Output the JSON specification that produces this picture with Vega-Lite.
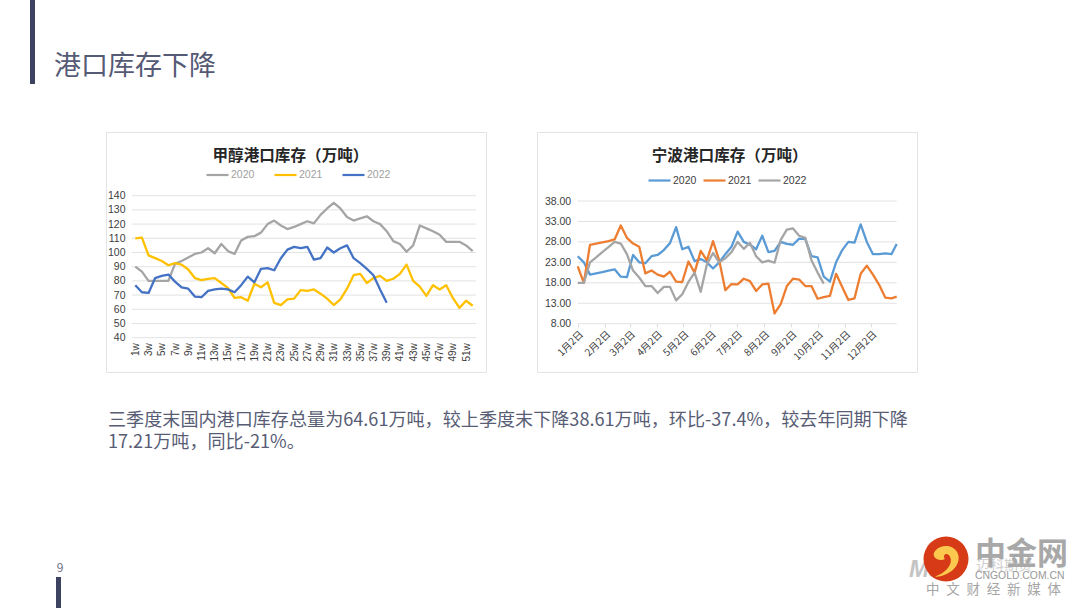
{
"$schema":"https://vega.github.io/schema/vega-lite/v6.json",
"width":1080,"height":608,"padding":0,"autosize":{"type":"none"},"background":"white",
"config":{"view":{"stroke":null},"font":"Noto Sans CJK SC","axis":{"labelFont":"Liberation Sans"},"legend":{"labelFont":"Liberation Sans"}},
"title":{"text":"港口库存下降","anchor":"start","frame":"group","orient":"top","offset":-81,"dx":54,"fontSize":27,"fontWeight":"normal","color":"#555a75","font":"Noto Sans CJK SC"},
"datasets":{
"ticksL":[{"v":40},{"v":50},{"v":60},{"v":70},{"v":80},{"v":90},{"v":100},{"v":110},{"v":120},{"v":130},{"v":140}],
"ticksR":[{"v":8},{"v":13},{"v":18},{"v":23},{"v":28},{"v":33},{"v":38}],
"methanol":[
{"y":"2020","w":1,"v":90},{"y":"2020","w":2,"v":86.5},{"y":"2020","w":3,"v":80},{"y":"2020","w":4,"v":80},{"y":"2020","w":5,"v":80},{"y":"2020","w":6,"v":80},{"y":"2020","w":7,"v":92},{"y":"2020","w":8,"v":94},{"y":"2020","w":9,"v":96.5},{"y":"2020","w":10,"v":99},{"y":"2020","w":11,"v":100},{"y":"2020","w":12,"v":103},{"y":"2020","w":13,"v":99.5},{"y":"2020","w":14,"v":106},{"y":"2020","w":15,"v":101},{"y":"2020","w":16,"v":99},{"y":"2020","w":17,"v":108.5},{"y":"2020","w":18,"v":111},{"y":"2020","w":19,"v":111.5},{"y":"2020","w":20,"v":114},{"y":"2020","w":21,"v":120},{"y":"2020","w":22,"v":122.5},{"y":"2020","w":23,"v":119},{"y":"2020","w":24,"v":116.5},{"y":"2020","w":25,"v":118},{"y":"2020","w":26,"v":120},{"y":"2020","w":27,"v":122},{"y":"2020","w":28,"v":120.5},{"y":"2020","w":29,"v":126.5},{"y":"2020","w":30,"v":131},{"y":"2020","w":31,"v":135},{"y":"2020","w":32,"v":131},{"y":"2020","w":33,"v":125},{"y":"2020","w":34,"v":122.5},{"y":"2020","w":35,"v":124},{"y":"2020","w":36,"v":125.5},{"y":"2020","w":37,"v":122},{"y":"2020","w":38,"v":120},{"y":"2020","w":39,"v":115},{"y":"2020","w":40,"v":108},{"y":"2020","w":41,"v":106},{"y":"2020","w":42,"v":100.5},{"y":"2020","w":43,"v":105},{"y":"2020","w":44,"v":119},{"y":"2020","w":45,"v":117},{"y":"2020","w":46,"v":115},{"y":"2020","w":47,"v":112.5},{"y":"2020","w":48,"v":107.5},{"y":"2020","w":49,"v":107.5},{"y":"2020","w":50,"v":107.5},{"y":"2020","w":51,"v":105},{"y":"2020","w":52,"v":101},
{"y":"2021","w":1,"v":110},{"y":"2021","w":2,"v":110.5},{"y":"2021","w":3,"v":98},{"y":"2021","w":4,"v":96},{"y":"2021","w":5,"v":94},{"y":"2021","w":6,"v":91},{"y":"2021","w":7,"v":92.5},{"y":"2021","w":8,"v":91.5},{"y":"2021","w":9,"v":88},{"y":"2021","w":10,"v":82},{"y":"2021","w":11,"v":80.5},{"y":"2021","w":12,"v":81.5},{"y":"2021","w":13,"v":82},{"y":"2021","w":14,"v":78.5},{"y":"2021","w":15,"v":75},{"y":"2021","w":16,"v":68},{"y":"2021","w":17,"v":68.5},{"y":"2021","w":18,"v":66},{"y":"2021","w":19,"v":78},{"y":"2021","w":20,"v":75.5},{"y":"2021","w":21,"v":79},{"y":"2021","w":22,"v":64.5},{"y":"2021","w":23,"v":63},{"y":"2021","w":24,"v":67},{"y":"2021","w":25,"v":67.5},{"y":"2021","w":26,"v":73.5},{"y":"2021","w":27,"v":73},{"y":"2021","w":28,"v":74},{"y":"2021","w":29,"v":71},{"y":"2021","w":30,"v":67.5},{"y":"2021","w":31,"v":63},{"y":"2021","w":32,"v":67},{"y":"2021","w":33,"v":74.5},{"y":"2021","w":34,"v":84},{"y":"2021","w":35,"v":85},{"y":"2021","w":36,"v":78.5},{"y":"2021","w":37,"v":82},{"y":"2021","w":38,"v":83.5},{"y":"2021","w":39,"v":80},{"y":"2021","w":40,"v":81.5},{"y":"2021","w":41,"v":85},{"y":"2021","w":42,"v":91.5},{"y":"2021","w":43,"v":80},{"y":"2021","w":44,"v":76},{"y":"2021","w":45,"v":69.5},{"y":"2021","w":46,"v":77},{"y":"2021","w":47,"v":74},{"y":"2021","w":48,"v":77},{"y":"2021","w":49,"v":68},{"y":"2021","w":50,"v":61},{"y":"2021","w":51,"v":66},{"y":"2021","w":52,"v":62.5},
{"y":"2022","w":1,"v":77},{"y":"2022","w":2,"v":72},{"y":"2022","w":3,"v":71.5},{"y":"2022","w":4,"v":82},{"y":"2022","w":5,"v":83.5},{"y":"2022","w":6,"v":84.5},{"y":"2022","w":7,"v":79.5},{"y":"2022","w":8,"v":75.5},{"y":"2022","w":9,"v":74.5},{"y":"2022","w":10,"v":69},{"y":"2022","w":11,"v":68.5},{"y":"2022","w":12,"v":73},{"y":"2022","w":13,"v":74},{"y":"2022","w":14,"v":74.5},{"y":"2022","w":15,"v":74},{"y":"2022","w":16,"v":72},{"y":"2022","w":17,"v":77},{"y":"2022","w":18,"v":83},{"y":"2022","w":19,"v":79},{"y":"2022","w":20,"v":88.5},{"y":"2022","w":21,"v":89},{"y":"2022","w":22,"v":87.5},{"y":"2022","w":23,"v":96},{"y":"2022","w":24,"v":102},{"y":"2022","w":25,"v":104},{"y":"2022","w":26,"v":103},{"y":"2022","w":27,"v":104},{"y":"2022","w":28,"v":95},{"y":"2022","w":29,"v":96},{"y":"2022","w":30,"v":103.5},{"y":"2022","w":31,"v":100},{"y":"2022","w":32,"v":103},{"y":"2022","w":33,"v":105},{"y":"2022","w":34,"v":96},{"y":"2022","w":35,"v":92.5},{"y":"2022","w":36,"v":88.5},{"y":"2022","w":37,"v":84},{"y":"2022","w":38,"v":74},{"y":"2022","w":39,"v":64.61}
],
"ningbo":[
{"y":"2020","d":"2021-01-02","v":24.5},{"y":"2020","d":"2021-01-09","v":23},{"y":"2020","d":"2021-01-16","v":20},{"y":"2020","d":"2021-01-23","v":20.3},{"y":"2020","d":"2021-01-30","v":20.6},{"y":"2020","d":"2021-02-06","v":21},{"y":"2020","d":"2021-02-13","v":21.3},{"y":"2020","d":"2021-02-20","v":19.5},{"y":"2020","d":"2021-02-27","v":19.4},{"y":"2020","d":"2021-03-06","v":24.8},{"y":"2020","d":"2021-03-13","v":23},{"y":"2020","d":"2021-03-20","v":22.8},{"y":"2020","d":"2021-03-27","v":24.5},{"y":"2020","d":"2021-04-03","v":24.8},{"y":"2020","d":"2021-04-10","v":26},{"y":"2020","d":"2021-04-17","v":27.7},{"y":"2020","d":"2021-04-24","v":31.6},{"y":"2020","d":"2021-05-01","v":26.2},{"y":"2020","d":"2021-05-08","v":26.8},{"y":"2020","d":"2021-05-15","v":23.3},{"y":"2020","d":"2021-05-22","v":23.8},{"y":"2020","d":"2021-05-29","v":23},{"y":"2020","d":"2021-06-05","v":21.5},{"y":"2020","d":"2021-06-12","v":23},{"y":"2020","d":"2021-06-19","v":25},{"y":"2020","d":"2021-06-26","v":26.8},{"y":"2020","d":"2021-07-03","v":30.5},{"y":"2020","d":"2021-07-10","v":28},{"y":"2020","d":"2021-07-17","v":27.3},{"y":"2020","d":"2021-07-24","v":26.2},{"y":"2020","d":"2021-07-31","v":29.5},{"y":"2020","d":"2021-08-07","v":25.5},{"y":"2020","d":"2021-08-14","v":25.8},{"y":"2020","d":"2021-08-21","v":28},{"y":"2020","d":"2021-08-28","v":27.5},{"y":"2020","d":"2021-09-04","v":27.3},{"y":"2020","d":"2021-09-11","v":28.8},{"y":"2020","d":"2021-09-18","v":28.7},{"y":"2020","d":"2021-09-25","v":24.5},{"y":"2020","d":"2021-10-02","v":24.2},{"y":"2020","d":"2021-10-09","v":19.5},{"y":"2020","d":"2021-10-16","v":18.3},{"y":"2020","d":"2021-10-23","v":23},{"y":"2020","d":"2021-10-30","v":26},{"y":"2020","d":"2021-11-06","v":28},{"y":"2020","d":"2021-11-13","v":27.8},{"y":"2020","d":"2021-11-20","v":32.3},{"y":"2020","d":"2021-11-27","v":28},{"y":"2020","d":"2021-12-04","v":25},{"y":"2020","d":"2021-12-11","v":25},{"y":"2020","d":"2021-12-18","v":25.2},{"y":"2020","d":"2021-12-25","v":25},{"y":"2020","d":"2021-12-31","v":27.5},
{"y":"2021","d":"2021-01-02","v":22},{"y":"2021","d":"2021-01-09","v":18},{"y":"2021","d":"2021-01-16","v":27.3},{"y":"2021","d":"2021-01-23","v":27.6},{"y":"2021","d":"2021-01-30","v":27.9},{"y":"2021","d":"2021-02-06","v":28.2},{"y":"2021","d":"2021-02-13","v":28.6},{"y":"2021","d":"2021-02-20","v":32},{"y":"2021","d":"2021-02-27","v":29},{"y":"2021","d":"2021-03-06","v":27.6},{"y":"2021","d":"2021-03-13","v":26.8},{"y":"2021","d":"2021-03-20","v":20.3},{"y":"2021","d":"2021-03-27","v":21},{"y":"2021","d":"2021-04-03","v":20},{"y":"2021","d":"2021-04-10","v":19.5},{"y":"2021","d":"2021-04-17","v":20.7},{"y":"2021","d":"2021-04-24","v":18.3},{"y":"2021","d":"2021-05-01","v":18.2},{"y":"2021","d":"2021-05-08","v":23.2},{"y":"2021","d":"2021-05-15","v":20.5},{"y":"2021","d":"2021-05-22","v":25.8},{"y":"2021","d":"2021-05-29","v":23.5},{"y":"2021","d":"2021-06-05","v":28.2},{"y":"2021","d":"2021-06-12","v":23.5},{"y":"2021","d":"2021-06-19","v":16.2},{"y":"2021","d":"2021-06-26","v":17.7},{"y":"2021","d":"2021-07-03","v":17.6},{"y":"2021","d":"2021-07-10","v":19},{"y":"2021","d":"2021-07-17","v":18.4},{"y":"2021","d":"2021-07-24","v":16},{"y":"2021","d":"2021-07-31","v":17.6},{"y":"2021","d":"2021-08-07","v":17.8},{"y":"2021","d":"2021-08-14","v":10.5},{"y":"2021","d":"2021-08-21","v":12.8},{"y":"2021","d":"2021-08-28","v":17.2},{"y":"2021","d":"2021-09-04","v":19},{"y":"2021","d":"2021-09-11","v":18.8},{"y":"2021","d":"2021-09-18","v":17.2},{"y":"2021","d":"2021-09-25","v":17.2},{"y":"2021","d":"2021-10-02","v":14.1},{"y":"2021","d":"2021-10-09","v":14.5},{"y":"2021","d":"2021-10-16","v":14.8},{"y":"2021","d":"2021-10-23","v":20.2},{"y":"2021","d":"2021-10-30","v":17},{"y":"2021","d":"2021-11-06","v":13.8},{"y":"2021","d":"2021-11-13","v":14.2},{"y":"2021","d":"2021-11-20","v":20.2},{"y":"2021","d":"2021-11-27","v":22.2},{"y":"2021","d":"2021-12-04","v":20},{"y":"2021","d":"2021-12-11","v":17.5},{"y":"2021","d":"2021-12-18","v":14.4},{"y":"2021","d":"2021-12-25","v":14.2},{"y":"2021","d":"2021-12-31","v":14.6},
{"y":"2022","d":"2021-01-02","v":18},{"y":"2022","d":"2021-01-09","v":18},{"y":"2022","d":"2021-01-16","v":23},{"y":"2022","d":"2021-01-23","v":24.2},{"y":"2022","d":"2021-01-30","v":25.5},{"y":"2022","d":"2021-02-06","v":26.7},{"y":"2022","d":"2021-02-13","v":28},{"y":"2022","d":"2021-02-20","v":27.6},{"y":"2022","d":"2021-02-27","v":25},{"y":"2022","d":"2021-03-06","v":21},{"y":"2022","d":"2021-03-13","v":19.3},{"y":"2022","d":"2021-03-20","v":17.2},{"y":"2022","d":"2021-03-27","v":17.2},{"y":"2022","d":"2021-04-03","v":15.5},{"y":"2022","d":"2021-04-10","v":17},{"y":"2022","d":"2021-04-17","v":17},{"y":"2022","d":"2021-04-24","v":13.7},{"y":"2022","d":"2021-05-01","v":15.2},{"y":"2022","d":"2021-05-08","v":18.2},{"y":"2022","d":"2021-05-15","v":20.5},{"y":"2022","d":"2021-05-22","v":15.8},{"y":"2022","d":"2021-05-29","v":22.5},{"y":"2022","d":"2021-06-05","v":25.3},{"y":"2022","d":"2021-06-12","v":23},{"y":"2022","d":"2021-06-19","v":24},{"y":"2022","d":"2021-06-26","v":25.5},{"y":"2022","d":"2021-07-03","v":28},{"y":"2022","d":"2021-07-10","v":26.3},{"y":"2022","d":"2021-07-17","v":27.8},{"y":"2022","d":"2021-07-24","v":24.5},{"y":"2022","d":"2021-07-31","v":23},{"y":"2022","d":"2021-08-07","v":23.4},{"y":"2022","d":"2021-08-14","v":22.9},{"y":"2022","d":"2021-08-21","v":28.5},{"y":"2022","d":"2021-08-28","v":31},{"y":"2022","d":"2021-09-04","v":31.3},{"y":"2022","d":"2021-09-11","v":29.5},{"y":"2022","d":"2021-09-18","v":29},{"y":"2022","d":"2021-09-25","v":23.5},{"y":"2022","d":"2021-10-02","v":20.5},{"y":"2022","d":"2021-10-09","v":17.8}
]
},
"resolve":{"scale":{"x":"independent","y":"independent","color":"independent"},"axis":{"x":"independent","y":"independent"},"legend":{"color":"independent"}},
"layer":[
{"data":{"values":[{}]},
 "layer":[
  {"mark":{"type":"rect","fill":"transparent","stroke":"#e3e3e3","strokeWidth":1},"encoding":{
    "x":{"datum":106.5,"type":"quantitative","scale":{"domain":[0,1080],"range":[0,1080],"nice":false},"axis":null},"x2":{"datum":486.5},
    "y":{"datum":132.5,"type":"quantitative","scale":{"domain":[0,608],"range":[0,608],"nice":false},"axis":null},"y2":{"datum":372.5}}},
  {"mark":{"type":"rect","fill":"transparent","stroke":"#e3e3e3","strokeWidth":1},"encoding":{
    "x":{"datum":537.5,"type":"quantitative","axis":null},"x2":{"datum":917.5},
    "y":{"datum":132.5,"type":"quantitative","axis":null},"y2":{"datum":372.5}}},
  {"mark":{"type":"rect","fill":"#3e4261"},"encoding":{
    "x":{"datum":30,"type":"quantitative","axis":null},"x2":{"datum":35},
    "y":{"datum":0,"type":"quantitative","axis":null},"y2":{"datum":84}}},
  {"mark":{"type":"rect","fill":"#3e4261"},"encoding":{
    "x":{"datum":56,"type":"quantitative","axis":null},"x2":{"datum":61},
    "y":{"datum":577,"type":"quantitative","axis":null},"y2":{"datum":608}}},
  {"mark":{"type":"text","text":"9","fontSize":12,"color":"#6b6f85","align":"center","baseline":"middle"},"encoding":{
    "x":{"datum":60,"type":"quantitative","axis":null},"y":{"datum":568,"type":"quantitative","axis":null}}},
  {"mark":{"type":"text","text":"三季度末国内港口库存总量为64.61万吨，较上季度末下降38.61万吨，环比-37.4%，较去年同期下降","fontSize":18.1,"color":"#585d75","align":"left","baseline":"middle"},"encoding":{
    "x":{"datum":108,"type":"quantitative","axis":null},"y":{"datum":421,"type":"quantitative","axis":null}}},
  {"mark":{"type":"text","text":"17.21万吨，同比-21%。","fontSize":18.1,"color":"#585d75","align":"left","baseline":"middle"},"encoding":{
    "x":{"datum":108,"type":"quantitative","axis":null},"y":{"datum":443,"type":"quantitative","axis":null}}},
  {"mark":{"type":"text","text":"Mae","fontSize":24,"fontStyle":"italic","fontWeight":"bold","font":"Liberation Sans","color":"#c4c4c4","align":"left","baseline":"middle"},"encoding":{
    "x":{"datum":909,"type":"quantitative","axis":null},"y":{"datum":570,"type":"quantitative","axis":null}}},
  {"mark":{"type":"point","filled":true,"opacity":1,"size":2025,"color":"#d63a16"},"encoding":{
    "x":{"datum":946,"type":"quantitative","axis":null},"y":{"datum":559,"type":"quantitative","axis":null}}},
  {"mark":{"type":"point","filled":true,"opacity":1,"size":2025,"color":"#fbc94e","shape":"M-0.45,-0.4 C-0.2,-0.65 0.3,-0.65 0.5,-0.3 C0.7,0.1 0.4,0.5 0.05,0.65 C-0.15,0.75 -0.35,0.8 -0.5,0.78 C-0.1,0.65 0.3,0.3 0.2,-0.05 C0.1,-0.35 -0.2,-0.2 -0.05,0 C-0.3,0.15 -0.75,-0.1 -0.45,-0.4 Z"},"encoding":{
    "x":{"datum":946,"type":"quantitative","axis":null},"y":{"datum":559,"type":"quantitative","axis":null}}},
  {"mark":{"type":"text","text":"迈科期货","fontSize":14,"color":"#cfcfcf","align":"left","baseline":"middle"},"encoding":{
    "x":{"datum":976,"type":"quantitative","axis":null},"y":{"datum":566,"type":"quantitative","axis":null}}},
  {"mark":{"type":"text","text":"中金网","fontSize":31,"fontWeight":"bold","color":"#a8a8a8","align":"left","baseline":"middle"},"encoding":{
    "x":{"datum":975,"type":"quantitative","axis":null},"y":{"datum":555,"type":"quantitative","axis":null}}},
  {"mark":{"type":"text","text":"CNGOLD.COM.CN","fontSize":10.4,"font":"Liberation Sans","color":"#999999","align":"left","baseline":"middle"},"encoding":{
    "x":{"datum":975,"type":"quantitative","axis":null},"y":{"datum":576,"type":"quantitative","axis":null}}},
  {"mark":{"type":"text","text":"中\u2002文\u2002财\u2002经\u2002新\u2002媒\u2002体","fontSize":13.5,"color":"#a5a5a5","align":"left","baseline":"middle"},"encoding":{
    "x":{"datum":926,"type":"quantitative","axis":null},"y":{"datum":590,"type":"quantitative","axis":null}}}
 ]},
{"layer":[
  {"data":{"name":"ticksL"},"mark":{"type":"rule","color":"#e2e2e2","strokeWidth":1},"encoding":{
    "x":{"datum":0.5,"type":"quantitative","scale":{"domain":[0.5,52.5],"range":[132,476],"nice":false,"zero":false},
      "axis":{"orient":"bottom","offset":-270.3,"title":null,"values":[1,3,5,7,9,11,13,15,17,19,21,23,25,27,29,31,33,35,37,39,41,43,45,47,49,51],"labelExpr":"datum.value+'w'","labelAngle":-90,"labelAlign":"right","labelBaseline":"middle","labelFontSize":10,"labelColor":"#404040","labelPadding":5,"labelOverlap":false,"labelBound":false,"labelFlush":false,"ticks":false,"domain":false,"grid":false}},
    "x2":{"datum":52.5},
    "y":{"field":"v","type":"quantitative","scale":{"domain":[40,140],"range":[337.7,195.7],"nice":false,"zero":false},
      "axis":{"orient":"left","offset":-132,"title":null,"values":[40,50,60,70,80,90,100,110,120,130,140],"labelFontSize":10.5,"labelColor":"#404040","labelPadding":7,"ticks":false,"domain":false,"grid":false,"labelOverlap":false,"labelBound":false,"labelFlush":false}}}},
  {"data":{"name":"methanol"},"mark":{"type":"line","strokeWidth":2.3,"strokeJoin":"round"},"encoding":{
    "x":{"field":"w","type":"quantitative"},
    "y":{"field":"v","type":"quantitative"},
    "color":{"field":"y","type":"nominal","scale":{"domain":["2020","2021","2022"],"range":["#a5a5a5","#ffc000","#4472c4"]},
      "legend":{"orient":"none","legendX":205,"legendY":162.5,"direction":"horizontal","columns":3,"title":null,"symbolType":"stroke","symbolSize":484,"symbolStrokeWidth":2.2,"labelFontSize":10.5,"labelColor":"#a0a0a0","columnPadding":15,"labelOffset":1}}}},
  {"data":{"values":[{}]},"mark":{"type":"text","text":"甲醇港口库存（万吨）","fontSize":15.6,"fontWeight":"bold","color":"#262626","align":"center","baseline":"middle"},"encoding":{
    "x":{"datum":24.45,"type":"quantitative"},"y":{"datum":168,"type":"quantitative"}}}
 ]},
{"layer":[
  {"data":{"name":"ticksR"},"mark":{"type":"rule","color":"#e2e2e2","strokeWidth":1},"encoding":{
    "x":{"datum":{"year":2021,"month":1,"date":2,"utc":true},"type":"temporal","scale":{"type":"utc","domain":[{"year":2021,"month":1,"date":2,"utc":true},{"year":2021,"month":12,"date":31,"utc":true}],"range":[577.7,896.7],"nice":false},
      "axis":{"orient":"bottom","offset":-284.3,"title":null,"values":[{"year":2021,"month":1,"date":2,"utc":true},{"year":2021,"month":2,"date":2,"utc":true},{"year":2021,"month":3,"date":2,"utc":true},{"year":2021,"month":4,"date":2,"utc":true},{"year":2021,"month":5,"date":2,"utc":true},{"year":2021,"month":6,"date":2,"utc":true},{"year":2021,"month":7,"date":2,"utc":true},{"year":2021,"month":8,"date":2,"utc":true},{"year":2021,"month":9,"date":2,"utc":true},{"year":2021,"month":10,"date":2,"utc":true},{"year":2021,"month":11,"date":2,"utc":true},{"year":2021,"month":12,"date":2,"utc":true}],"labelExpr":"(utcmonth(datum.value)+1)+'月'+utcdate(datum.value)+'日'","labelAngle":-45,"labelAlign":"right","labelBaseline":"top","labelFont":"Noto Sans CJK SC","labelFontSize":10,"labelColor":"#404040","labelPadding":2,"labelDx":-3,"labelDy":2,"labelOverlap":false,"labelBound":false,"labelFlush":false,"ticks":true,"tickColor":"#d9d9d9","tickSize":3,"domain":false,"grid":false}},
    "x2":{"datum":{"year":2021,"month":12,"date":31,"utc":true}},
    "y":{"field":"v","type":"quantitative","scale":{"domain":[8,38],"range":[323.7,201],"nice":false,"zero":false},
      "axis":{"orient":"left","offset":-577.7,"title":null,"values":[8,13,18,23,28,33,38],"format":".2f","labelFontSize":10.5,"labelColor":"#404040","labelPadding":7,"ticks":false,"domain":false,"grid":false,"labelOverlap":false,"labelBound":false,"labelFlush":false}}}},
  {"data":{"name":"ningbo"},"mark":{"type":"line","strokeWidth":2.3,"strokeJoin":"round"},"encoding":{
    "x":{"field":"d","type":"temporal"},
    "y":{"field":"v","type":"quantitative"},
    "color":{"field":"y","type":"nominal","scale":{"domain":["2020","2021","2022"],"range":["#5b9bd5","#ed7d31","#a5a5a5"]},
      "legend":{"orient":"none","legendX":647,"legendY":168,"direction":"horizontal","columns":3,"title":null,"symbolType":"stroke","symbolSize":484,"symbolStrokeWidth":2.2,"labelFontSize":10.5,"labelColor":"#404040","columnPadding":2,"labelOffset":1}}}},
  {"data":{"values":[{}]},"mark":{"type":"text","text":"宁波港口库存（万吨）","fontSize":15.6,"fontWeight":"bold","color":"#262626","align":"center","baseline":"middle"},"encoding":{
    "x":{"datum":{"year":2021,"month":6,"date":24,"utc":true},"type":"temporal"},"y":{"datum":49,"type":"quantitative"}}}
 ]}
]
}
